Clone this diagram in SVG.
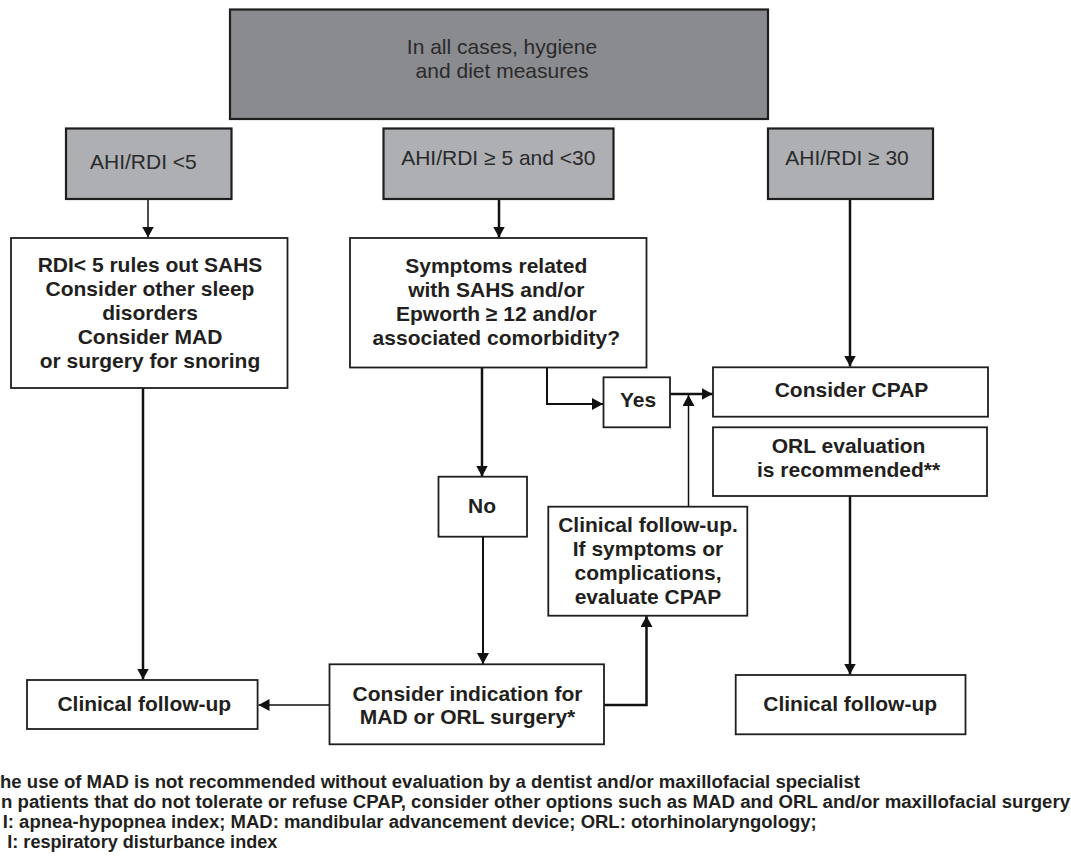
<svg xmlns="http://www.w3.org/2000/svg" width="1071" height="864" viewBox="0 0 1071 864">
  <style>
    .bg { fill: #ffffff; }
    .dark { fill: #8a8b8f; stroke: #1e1e1e; stroke-width: 2.2; }
    .grey { fill: #aeafb3; stroke: #1e1e1e; stroke-width: 2.2; }
    .white { fill: #ffffff; stroke: #1e1e1e; stroke-width: 1.8; }
    .reg { font-family: "Liberation Sans", Arial, sans-serif; font-size: 21px; fill: #2a2a2a; text-anchor: middle; }
    .bold { font-family: "Liberation Sans", Arial, sans-serif; font-size: 21px; font-weight: bold; fill: #231f20; text-anchor: middle; }
    .note { font-family: "Liberation Sans", Arial, sans-serif; font-size: 18px; font-weight: bold; fill: #231f20; }
    .c { fill: none; stroke: #111111; stroke-width: 2.5; }
    .thin { stroke-width: 1.5; }
    .mid { stroke-width: 2; }
  </style>
  <defs>
    <marker id="ah" markerUnits="userSpaceOnUse" markerWidth="11" markerHeight="12" refX="11" refY="6" orient="auto">
      <path d="M0,0 L11,6 L0,12 z" fill="#111111"/>
    </marker>
  </defs>
  <rect class="bg" x="0" y="0" width="1071" height="864"/>

  <g id="connectors">
    <path class="c thin" d="M148,199.5 V237.5" marker-end="url(#ah)"/>
    <path class="c" d="M499,199.5 V237.5" marker-end="url(#ah)"/>
    <path class="c" d="M850,199.5 V366.5" marker-end="url(#ah)"/>
    <path class="c" d="M143,388 V679.5" marker-end="url(#ah)"/>
    <path class="c" d="M482,367.5 V476.5" marker-end="url(#ah)"/>
    <path class="c mid" d="M483,537 V664" marker-end="url(#ah)"/>
    <path class="c thin" d="M329.5,705 H258.5" marker-end="url(#ah)"/>
    <path class="c" d="M604,705 H646.5 V616" marker-end="url(#ah)"/>
    <path class="c thin" d="M688.5,507 V395" marker-end="url(#ah)"/>
    <path class="c mid" d="M547,367.5 V404 H603" marker-end="url(#ah)"/>
    <path class="c" d="M670,394 H712.5" marker-end="url(#ah)"/>
    <path class="c" d="M850,496 V674.5" marker-end="url(#ah)"/>
  </g>

  <g id="top">
    <rect class="dark" x="230" y="9.5" width="538" height="109.5"/>
    <text class="reg" x="502" y="54.3">In all cases, hygiene</text>
    <text class="reg" x="502" y="78.3">and diet measures</text>
  </g>

  <g id="ahi-low">
    <rect class="grey" x="66" y="128.5" width="165.5" height="70.5"/>
    <text class="reg" x="143.4" y="169.3">AHI/RDI &lt;5</text>
  </g>

  <g id="ahi-mid">
    <rect class="grey" x="383.5" y="128.5" width="230" height="70.5"/>
    <text class="reg" x="498.3" y="165">AHI/RDI ≥ 5 and &lt;30</text>
  </g>

  <g id="ahi-high">
    <rect class="grey" x="768" y="128.5" width="165" height="70.5"/>
    <text class="reg" x="847" y="165">AHI/RDI ≥ 30</text>
  </g>

  <g id="rules-out">
    <rect class="white" x="11" y="238" width="276.5" height="150"/>
    <text class="bold" x="150" y="271.7">RDI&lt; 5 rules out SAHS</text>
    <text class="bold" x="150" y="296">Consider other sleep</text>
    <text class="bold" x="150" y="320">disorders</text>
    <text class="bold" x="150" y="344.3">Consider MAD</text>
    <text class="bold" x="150" y="368.3">or surgery for snoring</text>
  </g>

  <g id="symptoms">
    <rect class="white" x="350" y="238" width="296.5" height="129.5"/>
    <text class="bold" x="496.3" y="272.5">Symptoms related</text>
    <text class="bold" x="496.3" y="296.5">with SAHS and/or</text>
    <text class="bold" x="496.3" y="320.5">Epworth ≥ 12 and/or</text>
    <text class="bold" x="496.3" y="345">associated comorbidity?</text>
  </g>

  <g id="cpap">
    <rect class="white" x="713" y="367.3" width="275" height="49.4"/>
    <text class="bold" x="851.5" y="397.3">Consider CPAP</text>
  </g>

  <g id="orl">
    <rect class="white" x="713" y="427.3" width="274" height="68.7"/>
    <text class="bold" x="848.6" y="453.3">ORL evaluation</text>
    <text class="bold" x="848.6" y="477">is recommended**</text>
  </g>

  <g id="yes">
    <rect class="white" x="603.5" y="377.3" width="66.5" height="50"/>
    <text class="bold" x="638" y="407.3">Yes</text>
  </g>

  <g id="no">
    <rect class="white" x="438.5" y="476.7" width="88.5" height="60"/>
    <text class="bold" x="482" y="513">No</text>
  </g>

  <g id="followup-evaluate">
    <rect class="white" x="548.3" y="506.7" width="199" height="109"/>
    <text class="bold" x="648" y="532">Clinical follow-up.</text>
    <text class="bold" x="648" y="556">If symptoms or</text>
    <text class="bold" x="648" y="580">complications,</text>
    <text class="bold" x="648" y="603.5">evaluate CPAP</text>
  </g>

  <g id="indication">
    <rect class="white" x="329.5" y="664.3" width="274.5" height="80"/>
    <text class="bold" x="467.5" y="701">Consider indication for</text>
    <text class="bold" x="467.5" y="724">MAD or ORL surgery*</text>
  </g>

  <g id="followup-left">
    <rect class="white" x="27" y="680" width="230.6" height="49"/>
    <text class="bold" x="144.3" y="710.7">Clinical follow-up</text>
  </g>

  <g id="followup-right">
    <rect class="white" x="735.7" y="675" width="229.8" height="59.3"/>
    <text class="bold" x="850.2" y="711">Clinical follow-up</text>
  </g>

  <g id="notes">
    <text class="note" x="0" y="788" textLength="860" lengthAdjust="spacingAndGlyphs">he use of MAD is not recommended without evaluation by a dentist and/or maxillofacial specialist</text>
    <text class="note" x="1" y="808" textLength="1069" lengthAdjust="spacingAndGlyphs">n patients that do not tolerate or refuse CPAP, consider other options such as MAD and ORL and/or maxillofacial surgery</text>
    <text class="note" x="2.7" y="828" textLength="814" lengthAdjust="spacingAndGlyphs">I: apnea-hypopnea index; MAD: mandibular advancement device; ORL: otorhinolaryngology;</text>
    <text class="note" x="7.3" y="847.5" textLength="270" lengthAdjust="spacingAndGlyphs">I: respiratory disturbance index</text>
  </g>
</svg>
